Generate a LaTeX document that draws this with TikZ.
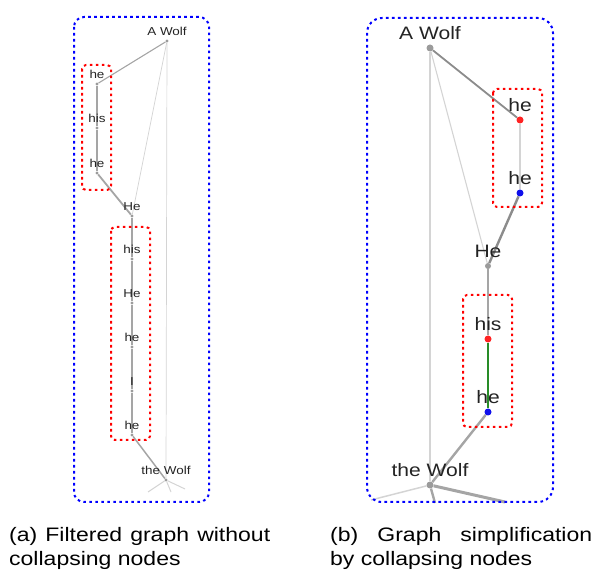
\documentclass[tikz,border=0pt]{standalone}
\usepackage{fontspec}
\setmainfont{Liberation Sans}[FakeStretch=1.17]
\newfontfamily\captfont{Liberation Sans}[FakeStretch=1.18]
\usetikzlibrary{backgrounds}
\definecolor{edgegray}{RGB}{165,165,165}
\definecolor{edgelight}{RGB}{212,212,212}
\definecolor{dotgray}{RGB}{155,155,155}
\definecolor{txtgray}{RGB}{35,35,35}
\definecolor{mergegreen}{RGB}{40,140,40}
\definecolor{headred}{RGB}{255,35,35}
\definecolor{tailblue}{RGB}{15,15,235}
\tikzset{
  panel/.style={draw=blue, line width=2pt, dash pattern=on 2.6pt off 3.4pt, rounded corners=#1},
  panel/.default=10pt,
  grp/.style={draw=red, line width=2pt, dash pattern=on 2.6pt off 3.4pt, rounded corners=4pt},
  sdot/.style={circle, fill=dotgray, inner sep=0pt, minimum size=3.2pt},
  bdot/.style={circle, fill=#1, inner sep=0pt, minimum size=7pt},
  bdot/.default=dotgray,
  slbl/.style={font=\fontsize{11.5}{12}\selectfont, text=txtgray, inner sep=0pt, label distance=3.5pt},
  blbl/.style={font=\fontsize{18}{20}\selectfont, text=txtgray, inner sep=0pt, label distance=4.5pt},
  ln/.style={draw=edgegray, line width=#1},
  faint/.style={draw=edgelight, line width=#1},
  capt/.style={font=\captfont\fontsize{19.5}{24}\selectfont, anchor=base west, inner sep=0pt},
}

\begin{document}
\begin{tikzpicture}[x=1pt,y=-1pt]
\useasboundingbox (0,0) rectangle (595,577);

% ================= (a) filtered graph =================
\draw[panel=10pt] (74,17) rectangle (209,502);
\draw[grp] (82,65) rectangle (111,190);
\draw[grp] (111,227) rectangle (150,440);

\node[sdot, label={[slbl]above:A Wolf}] (aw1) at (167,41) {};
\node[sdot, label={[slbl]above:he}]  (a1) at (97,84) {};
\node[sdot, label={[slbl]above:his}] (a2) at (97,128) {};
\node[sdot, label={[slbl]above:he}]  (a3) at (97,173) {};
\node[sdot, label={[slbl]above:He}]  (a4) at (132,216) {};
\node[sdot, label={[slbl]above:his}] (a5) at (132,259) {};
\node[sdot, label={[slbl]above:He}]  (a6) at (132,303) {};
\node[sdot, label={[slbl]above:he}]  (a7) at (132,347) {};
\node[sdot, label={[slbl]above:I}]   (a8) at (132,391) {};
\node[sdot, label={[slbl]above:he}]  (a9) at (132,435) {};
\node[sdot, label={[slbl]above:the Wolf}] (tw1) at (166,480) {};

\coordinate (tw1a) at (148,492);
\coordinate (tw1b) at (171,492);
\coordinate (tw1c) at (185,489);

\begin{scope}[on background layer]
\draw[faint=0.7pt] (aw1) -- (tw1);
\draw[faint=0.7pt] (aw1) -- (a4);
\draw[ln=1.1pt] (aw1) -- (a1);
\foreach \a/\b in {a1/a2, a2/a3, a3/a4, a4/a5, a5/a6, a6/a7, a7/a8, a8/a9}
  {\draw[ln=1.8pt] (\a) -- (\b);}
\draw[ln=1.5pt] (a9) -- (tw1);
\draw[faint=1pt] (tw1) -- (tw1a);
\draw[faint=1pt] (tw1) -- (tw1b);
\draw[faint=1pt] (tw1) -- (tw1c);
\end{scope}

% ================= (b) collapsed graph =================
\draw[panel=15pt] (367,18) rectangle (553,502);
\draw[grp] (493,89) rectangle (542,207);
\draw[grp] (463,295) rectangle (512,427);

\node[bdot, label={[blbl]above:A Wolf}] (aw2) at (430,48) {};
\node[bdot=headred, label={[blbl]above:he}]  (b1) at (520,120) {};
\node[bdot=tailblue, label={[blbl]above:he}] (b2) at (520,193) {};
\node[bdot, minimum size=6pt, label={[blbl]above:He}] (b3) at (488,266) {};
\node[bdot=headred, label={[blbl]above:his}] (b4) at (488,339) {};
\node[bdot=tailblue, label={[blbl]above:he}] (b5) at (488,412) {};
\node[bdot, label={[blbl]above:the Wolf}] (tw2) at (430,485) {};

\coordinate (tw2a) at (371,500);
\coordinate (tw2b) at (435,503);
\coordinate (tw2c) at (505,502);

\begin{scope}[on background layer]
\draw[faint=1.1pt] (aw2) -- (tw2);
\draw[faint=1.1pt] (aw2) -- (b3);
\draw[ln=1.8pt, draw=edgegray!85!black] (aw2) -- (b1);
\draw[faint=2.4pt] (b1) -- (b2);
\draw[ln=2.4pt, draw=edgegray!85!black] (b2) -- (b3);
\draw[ln=2pt] (b3) -- (b4);
\draw[ln=2pt, draw=mergegreen] (b4) -- (b5);
\draw[ln=2.4pt] (b5) -- (tw2);
\draw[faint=1.5pt] (tw2) -- (tw2a);
\draw[ln=2.4pt] (tw2) -- (tw2b);
\draw[ln=3pt] (tw2) -- (tw2c);
\end{scope}

% ================= captions =================
\node[capt] (capa1) at (9,541) {\makebox[261pt][s]{(a) Filtered graph without}};
\node[capt] (capa2) at (9,565) {collapsing nodes};
\node[capt] (capb1) at (330,541) {\makebox[262pt][s]{(b) Graph simplification}};
\node[capt] (capb2) at (330,565) {by collapsing nodes};

\end{tikzpicture}
\end{document}
